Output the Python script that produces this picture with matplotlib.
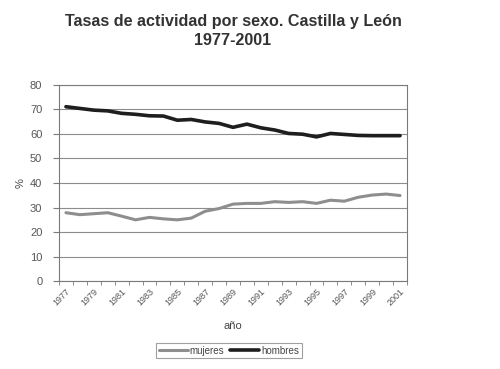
import matplotlib
matplotlib.use("Agg")
import matplotlib.pyplot as plt
import numpy as np

plt.rcParams['font.family'] = ['Liberation Sans', 'DejaVu Sans']

years = list(range(1977, 2002))
mujeres = [27.9, 27.1, 27.5, 27.9, 26.5, 25.0, 26.0, 25.4, 25.0, 25.7,
           28.5, 29.6, 31.4, 31.7, 31.7, 32.4, 32.1, 32.4, 31.7, 33.0,
           32.6, 34.2, 35.1, 35.5, 34.9]
hombres = [71.1, 70.4, 69.7, 69.4, 68.4, 68.0, 67.4, 67.3, 65.6, 65.9,
           64.9, 64.3, 62.7, 64.0, 62.5, 61.6, 60.2, 59.9, 58.8, 60.2,
           59.8, 59.4, 59.3, 59.3, 59.3]
tick_years = list(range(1977, 2002, 2))
yticks = list(range(0, 81, 10))

fig = plt.figure(figsize=(5.0, 3.69), dpi=100)
ax = fig.add_axes([0.118, 0.238, 0.696, 0.532])

x = np.arange(len(years))
ax.plot(x, mujeres, color='#8e8e8e', lw=2.2, label='mujeres', solid_capstyle='round')
ax.plot(x, hombres, color='#1e1e1e', lw=2.6, label='hombres', solid_capstyle='round')

ax.set_xlim(-0.5, len(years) - 0.5)
ax.set_ylim(0, 80)
ax.set_yticks(yticks)
ax.yaxis.grid(True, color='#8c8c8c', lw=0.8)
ax.set_axisbelow(True)
for s in ax.spines.values():
    s.set_color('#7a7a7a')
    s.set_linewidth(0.8)

ax.set_xticks([years.index(y) for y in tick_years])
ax.set_xticklabels([str(y) for y in tick_years], rotation=45, ha='right',
                   rotation_mode='anchor', fontsize=6.5, color='#555555')
ax.set_xticks(np.arange(len(years) + 1) - 0.5, minor=True)
ax.tick_params(axis='x', which='major', length=0, pad=4)
ax.tick_params(axis='x', which='minor', length=3, color='#7a7a7a', direction='out')
ax.tick_params(axis='y', length=4, color='#7a7a7a', labelsize=8, labelcolor='#555555', pad=8)

ax.set_ylabel('%', fontsize=8, color='#444444', labelpad=3)
ax.set_xlabel('año', fontsize=8, color='#444444', labelpad=10)

fig.text(0.466, 0.915, 'Tasas de actividad por sexo. Castilla y León\n1977-2001',
         ha='center', va='center', fontsize=11.6, fontweight='bold',
         color='#333333', linespacing=1.35)

leg = fig.legend(loc='center', bbox_to_anchor=(0.458, 0.05), ncol=2, fontsize=7,
                 frameon=True, fancybox=False, handlelength=3, handletextpad=0.2,
                 columnspacing=0.6, borderpad=0.3, labelcolor='#444444')
leg.get_frame().set_edgecolor('#888888')
leg.get_frame().set_linewidth(0.8)

fig.savefig('out.png', dpi=100)
